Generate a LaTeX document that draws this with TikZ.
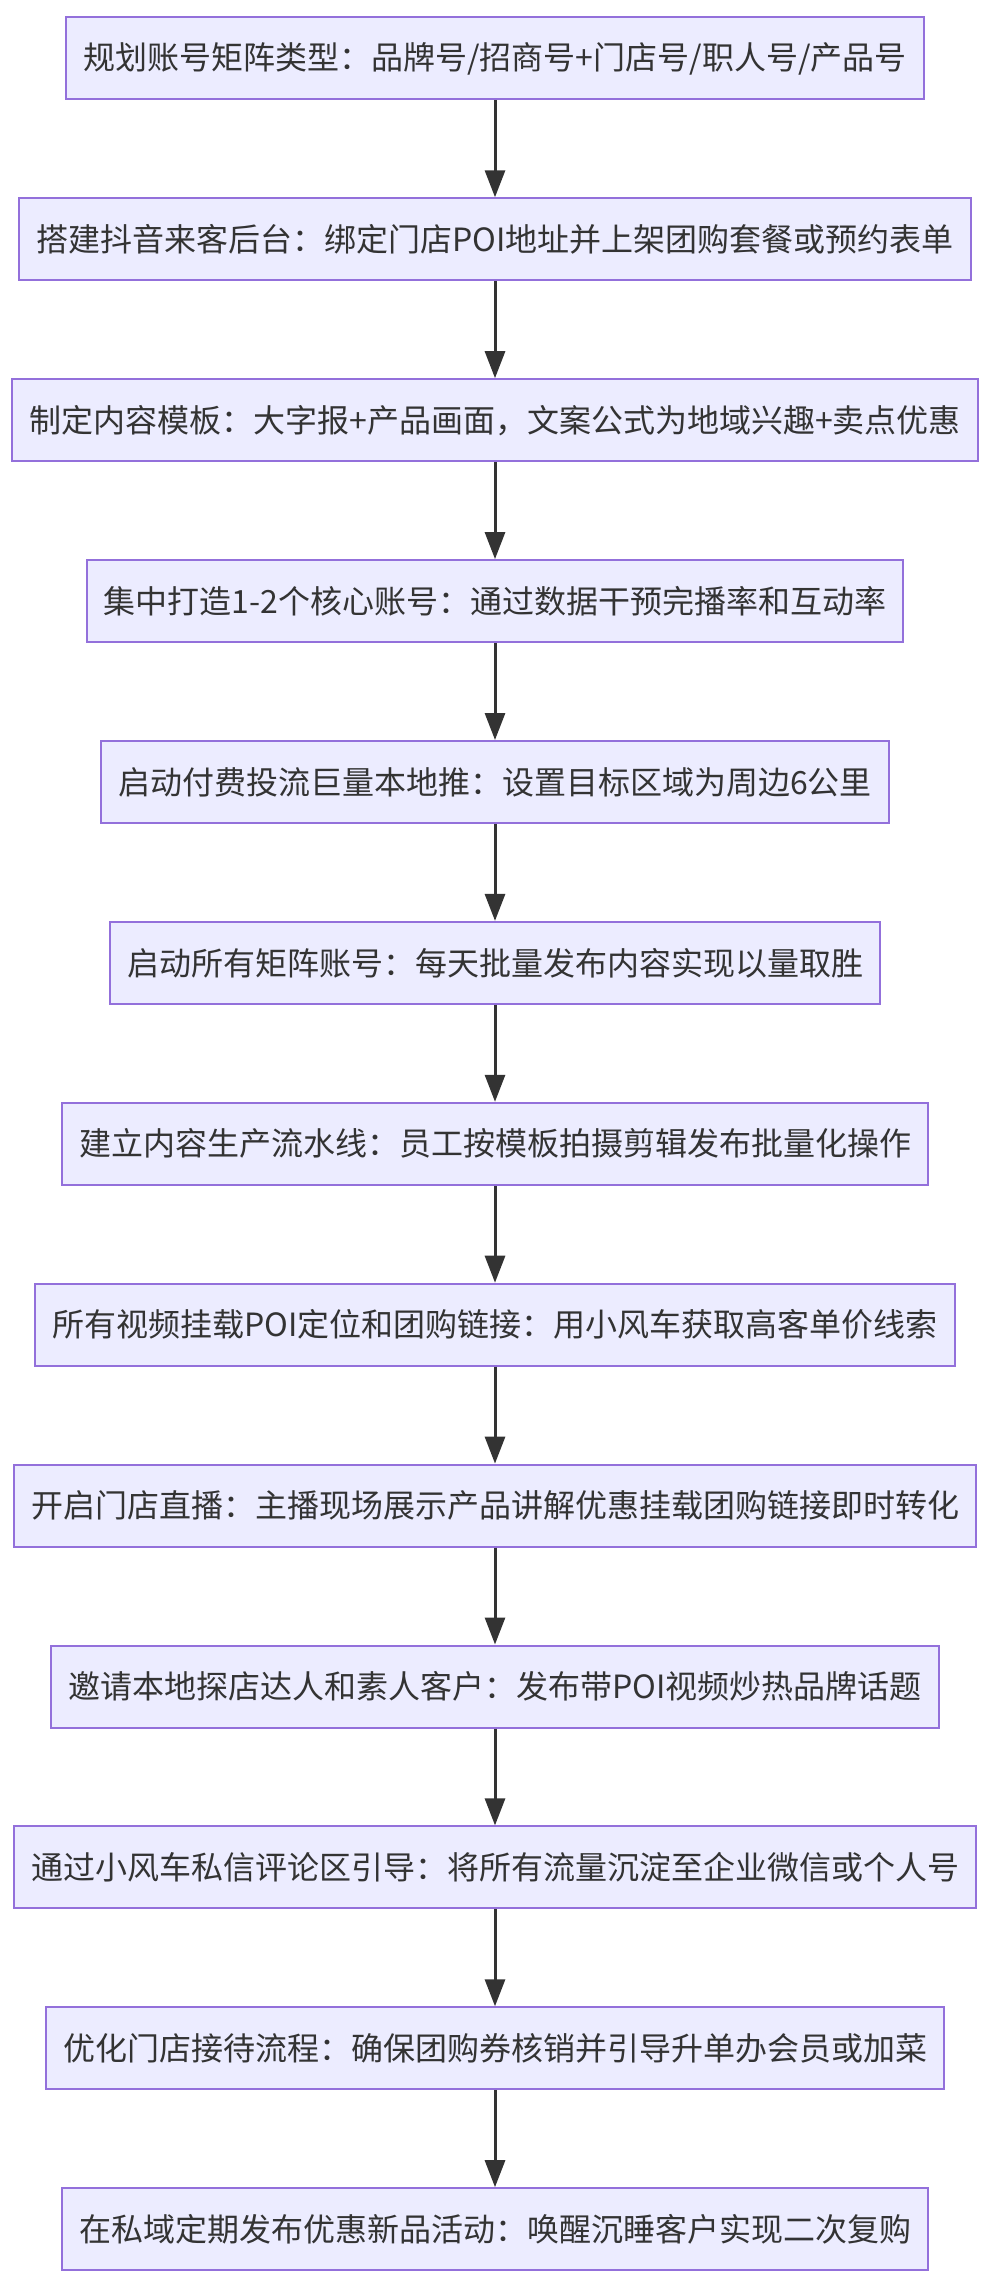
\documentclass[tikz,border=0pt]{standalone}
\usepackage{fontspec}
\setmainfont{Noto Sans CJK SC}
\usetikzlibrary{arrows.meta}
\definecolor{boxfill}{HTML}{ECECFF}
\definecolor{boxline}{HTML}{9370DB}
\definecolor{ink}{HTML}{333333}
\tikzset{
  stepbox/.style={draw=boxline, fill=boxfill, line width=2pt, text=ink,
    minimum height=82pt, inner xsep=17pt,
    font=\fontsize{32}{38}\selectfont},
  flow/.style={-{Triangle[length=27pt,width=20pt]}, draw=ink, line width=3pt},
}

\begin{document}
\begin{tikzpicture}[x=1pt,y=1pt]
\useasboundingbox (0,0) rectangle (992,-2290);
\node[stepbox] (plan)    at (495,-58.4)   {规划账号矩阵类型：品牌号/招商号+门店号/职人号/产品号};
\node[stepbox] (backend) at (495,-239.3)  {搭建抖音来客后台：绑定门店POI地址并上架团购套餐或预约表单};
\node[stepbox] (tmpl)    at (495,-420.2)  {制定内容模板：大字报+产品画面，文案公式为地域兴趣+卖点优惠};
\node[stepbox] (core)    at (495,-601.1)  {集中打造1-2个核心账号：通过数据干预完播率和互动率};
\node[stepbox] (paid)    at (495,-782.0)  {启动付费投流巨量本地推：设置目标区域为周边6公里};
\node[stepbox] (matrix)  at (495,-962.9)  {启动所有矩阵账号：每天批量发布内容实现以量取胜};
\node[stepbox] (pipe)    at (495,-1143.8) {建立内容生产流水线：员工按模板拍摄剪辑发布批量化操作};
\node[stepbox] (poi)     at (495,-1324.7) {所有视频挂载POI定位和团购链接：用小风车获取高客单价线索};
\node[stepbox] (live)    at (495,-1505.6) {开启门店直播：主播现场展示产品讲解优惠挂载团购链接即时转化};
\node[stepbox] (kol)     at (495,-1686.5) {邀请本地探店达人和素人客户：发布带POI视频炒热品牌话题};
\node[stepbox] (priv)    at (495,-1867.4) {通过小风车私信评论区引导：将所有流量沉淀至企业微信或个人号};
\node[stepbox] (store)   at (495,-2048.3) {优化门店接待流程：确保团购券核销并引导升单办会员或加菜};
\node[stepbox] (rebuy)   at (495,-2229.2) {在私域定期发布优惠新品活动：唤醒沉睡客户实现二次复购};

\draw[flow] (plan) -- (backend);
\draw[flow] (backend) -- (tmpl);
\draw[flow] (tmpl) -- (core);
\draw[flow] (core) -- (paid);
\draw[flow] (paid) -- (matrix);
\draw[flow] (matrix) -- (pipe);
\draw[flow] (pipe) -- (poi);
\draw[flow] (poi) -- (live);
\draw[flow] (live) -- (kol);
\draw[flow] (kol) -- (priv);
\draw[flow] (priv) -- (store);
\draw[flow] (store) -- (rebuy);
\end{tikzpicture}
\end{document}
